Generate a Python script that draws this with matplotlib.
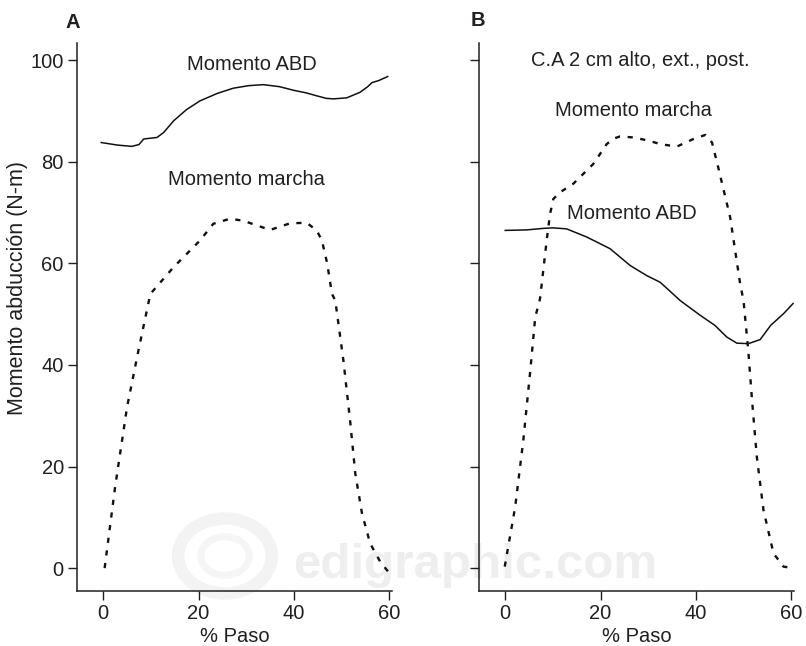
import matplotlib
matplotlib.use("Agg")
import matplotlib.pyplot as plt
from matplotlib.patches import Circle

plt.rcParams['font.family'] = ['Liberation Sans', 'DejaVu Sans']

# Panel A data
a_abd_x = [-0.4, 3.0, 6.0, 7.5, 8.5, 11.3, 12.7, 14.8, 17.5, 20.3, 24.0, 27.3, 30.5, 33.6, 37.0, 39.9, 42.5,
           44.8, 46.8, 48.3, 51.1, 53.9, 55.5, 56.4, 57.8, 59.7]
a_abd_y = [83.8, 83.3, 83.05, 83.4, 84.5, 84.8, 85.8, 88.1, 90.3, 92.0, 93.5, 94.5, 95.0, 95.2, 94.8, 94.1, 93.6,
           93.0, 92.5, 92.4, 92.6, 93.7, 94.8, 95.6, 96.0, 96.8]
a_mar_x = [0.3, 2.5, 5.0, 7.4, 9.6, 9.9, 14.8, 20.3, 23.1, 26.6, 29.4, 32.5, 35.0, 37.0, 39.2, 42.7, 44.8, 45.9,
           47.0, 48.0, 48.7, 50.4, 51.8, 52.9, 54.3, 56.0, 58.1, 59.8]
a_mar_y = [0.0, 16.0, 31.7, 42.9, 52.7, 54.0, 59.3, 64.5, 67.8, 68.8, 68.4, 67.4, 66.6, 67.2, 67.9, 68.0, 66.5, 64.5,
           60.0, 54.0, 52.7, 40.9, 29.1, 18.6, 10.8, 4.9, 1.3, -0.7]

# Panel B data
b_mar_x = [-0.1, 2.1, 3.8, 5.2, 6.3, 7.3, 8.7, 9.4, 10.1, 11.5, 14.3, 18.5, 21.3, 22.8, 24.1, 26.9, 30.0, 32.5,
           36.0, 39.5, 42.0, 43.4, 44.7, 47.2, 49.3, 50.0, 51.0, 51.8, 52.8, 54.2, 56.3, 58.4, 60.5]
b_mar_y = [0.3, 12.1, 25.2, 38.3, 49.4, 53.0, 64.5, 69.7, 72.7, 74.0, 75.7, 79.6, 83.5, 84.6, 85.0, 84.8, 84.2, 83.5,
           83.0, 84.5, 85.3, 83.8, 78.9, 69.1, 56.0, 52.7, 42.9, 33.0, 21.9, 11.4, 2.9, 0.3, 0.0]
b_abd_x = [0.0, 4.5, 8.0, 10.1, 12.9, 17.1, 22.0, 26.2, 29.7, 32.5, 34.5, 36.7, 40.9, 44.0, 46.5, 48.6, 51.0,
           53.5, 55.7, 58.4, 60.4]
b_abd_y = [66.5, 66.6, 66.9, 67.0, 66.8, 65.2, 62.9, 59.6, 57.6, 56.3, 54.6, 52.7, 49.8, 47.8, 45.5, 44.3, 44.2,
           45.0, 47.8, 50.1, 52.1]

xticks = [0, 20, 40, 60]
yticks = [0, 20, 40, 60, 80, 100]

W, H = 806, 646
fig = plt.figure(figsize=(W / 100, H / 100), dpi=100)

def px_rect(x0, x1, y0, y1):
    return [x0 / W, 1 - y1 / H, (x1 - x0) / W, (y1 - y0) / H]

axA = fig.add_axes(px_rect(77, 392, 43, 591))
axB = fig.add_axes(px_rect(479, 794, 43, 591))

txtc = '#231f20'
fs = 14.5
dot = (0, (2.2, 3.2))

# watermark (behind the axes)
fig.text(293 / W, 1 - 578 / H, 'edigraphic.com', fontsize=35.5, fontweight='bold',
         color='#eeeeee', ha='left', va='baseline', zorder=-5)
fig.patches.append(Circle((225 / W, 1 - 556 / H), 0.058, transform=fig.transFigure,
                          fill=False, ec='#f3f3f3', lw=9, zorder=-5))
fig.patches.append(Circle((225 / W, 1 - 556 / H), 0.03, transform=fig.transFigure,
                          fill=False, ec='#f5f5f5', lw=5, zorder=-5))

for ax in (axA, axB):
    ax.set_zorder(2)
    ax.set_xlim(-5.5, 60.6)
    ax.set_ylim(-4.5, 103.4)
    ax.set_xticks(xticks)
    ax.set_yticks(yticks)
    ax.spines['top'].set_visible(False)
    ax.spines['right'].set_visible(False)
    for s in ('left', 'bottom'):
        ax.spines[s].set_linewidth(1.1)
        ax.spines[s].set_color('#231f20')
    ax.tick_params(direction='out', length=6.5, width=1.0, color='#231f20',
                   labelsize=fs, labelcolor=txtc, pad=3)
    ax.patch.set_alpha(0)
    ax.set_xlabel('% Paso', fontsize=fs, color=txtc, labelpad=3)

axB.set_yticklabels([])

axA.plot(a_abd_x, a_abd_y, color='#111', lw=1.1)
axA.plot(a_mar_x, a_mar_y, color='#111', lw=1.7, linestyle=dot)
axB.plot(b_abd_x, b_abd_y, color='#111', lw=1.1)
axB.plot(b_mar_x, b_mar_y, color='#111', lw=1.7, linestyle=dot)

axA.text(31.2, 99.2, 'Momento ABD', fontsize=fs, color=txtc, ha='center', va='center')
axA.text(30.1, 76.6, 'Momento marcha', fontsize=fs, color=txtc, ha='center', va='center')
axB.text(28.3, 100.0, 'C.A 2 cm alto, ext., post.', fontsize=fs, color=txtc, ha='center', va='center')
axB.text(26.9, 90.1, 'Momento marcha', fontsize=fs, color=txtc, ha='center', va='center')
axB.text(26.6, 69.8, 'Momento ABD', fontsize=fs, color=txtc, ha='center', va='center')

fig.text(73 / W, 1 - 22 / H, 'A', fontsize=fs, fontweight='bold', color=txtc, ha='center', va='center')
fig.text(478 / W, 1 - 20 / H, 'B', fontsize=fs, fontweight='bold', color=txtc, ha='center', va='center')
fig.text(18 / W, 1 - 288 / H, 'Momento abducción (N-m)', fontsize=15.5, color=txtc,
         rotation=90, ha='center', va='center')

fig.savefig('out.png', dpi=100)
